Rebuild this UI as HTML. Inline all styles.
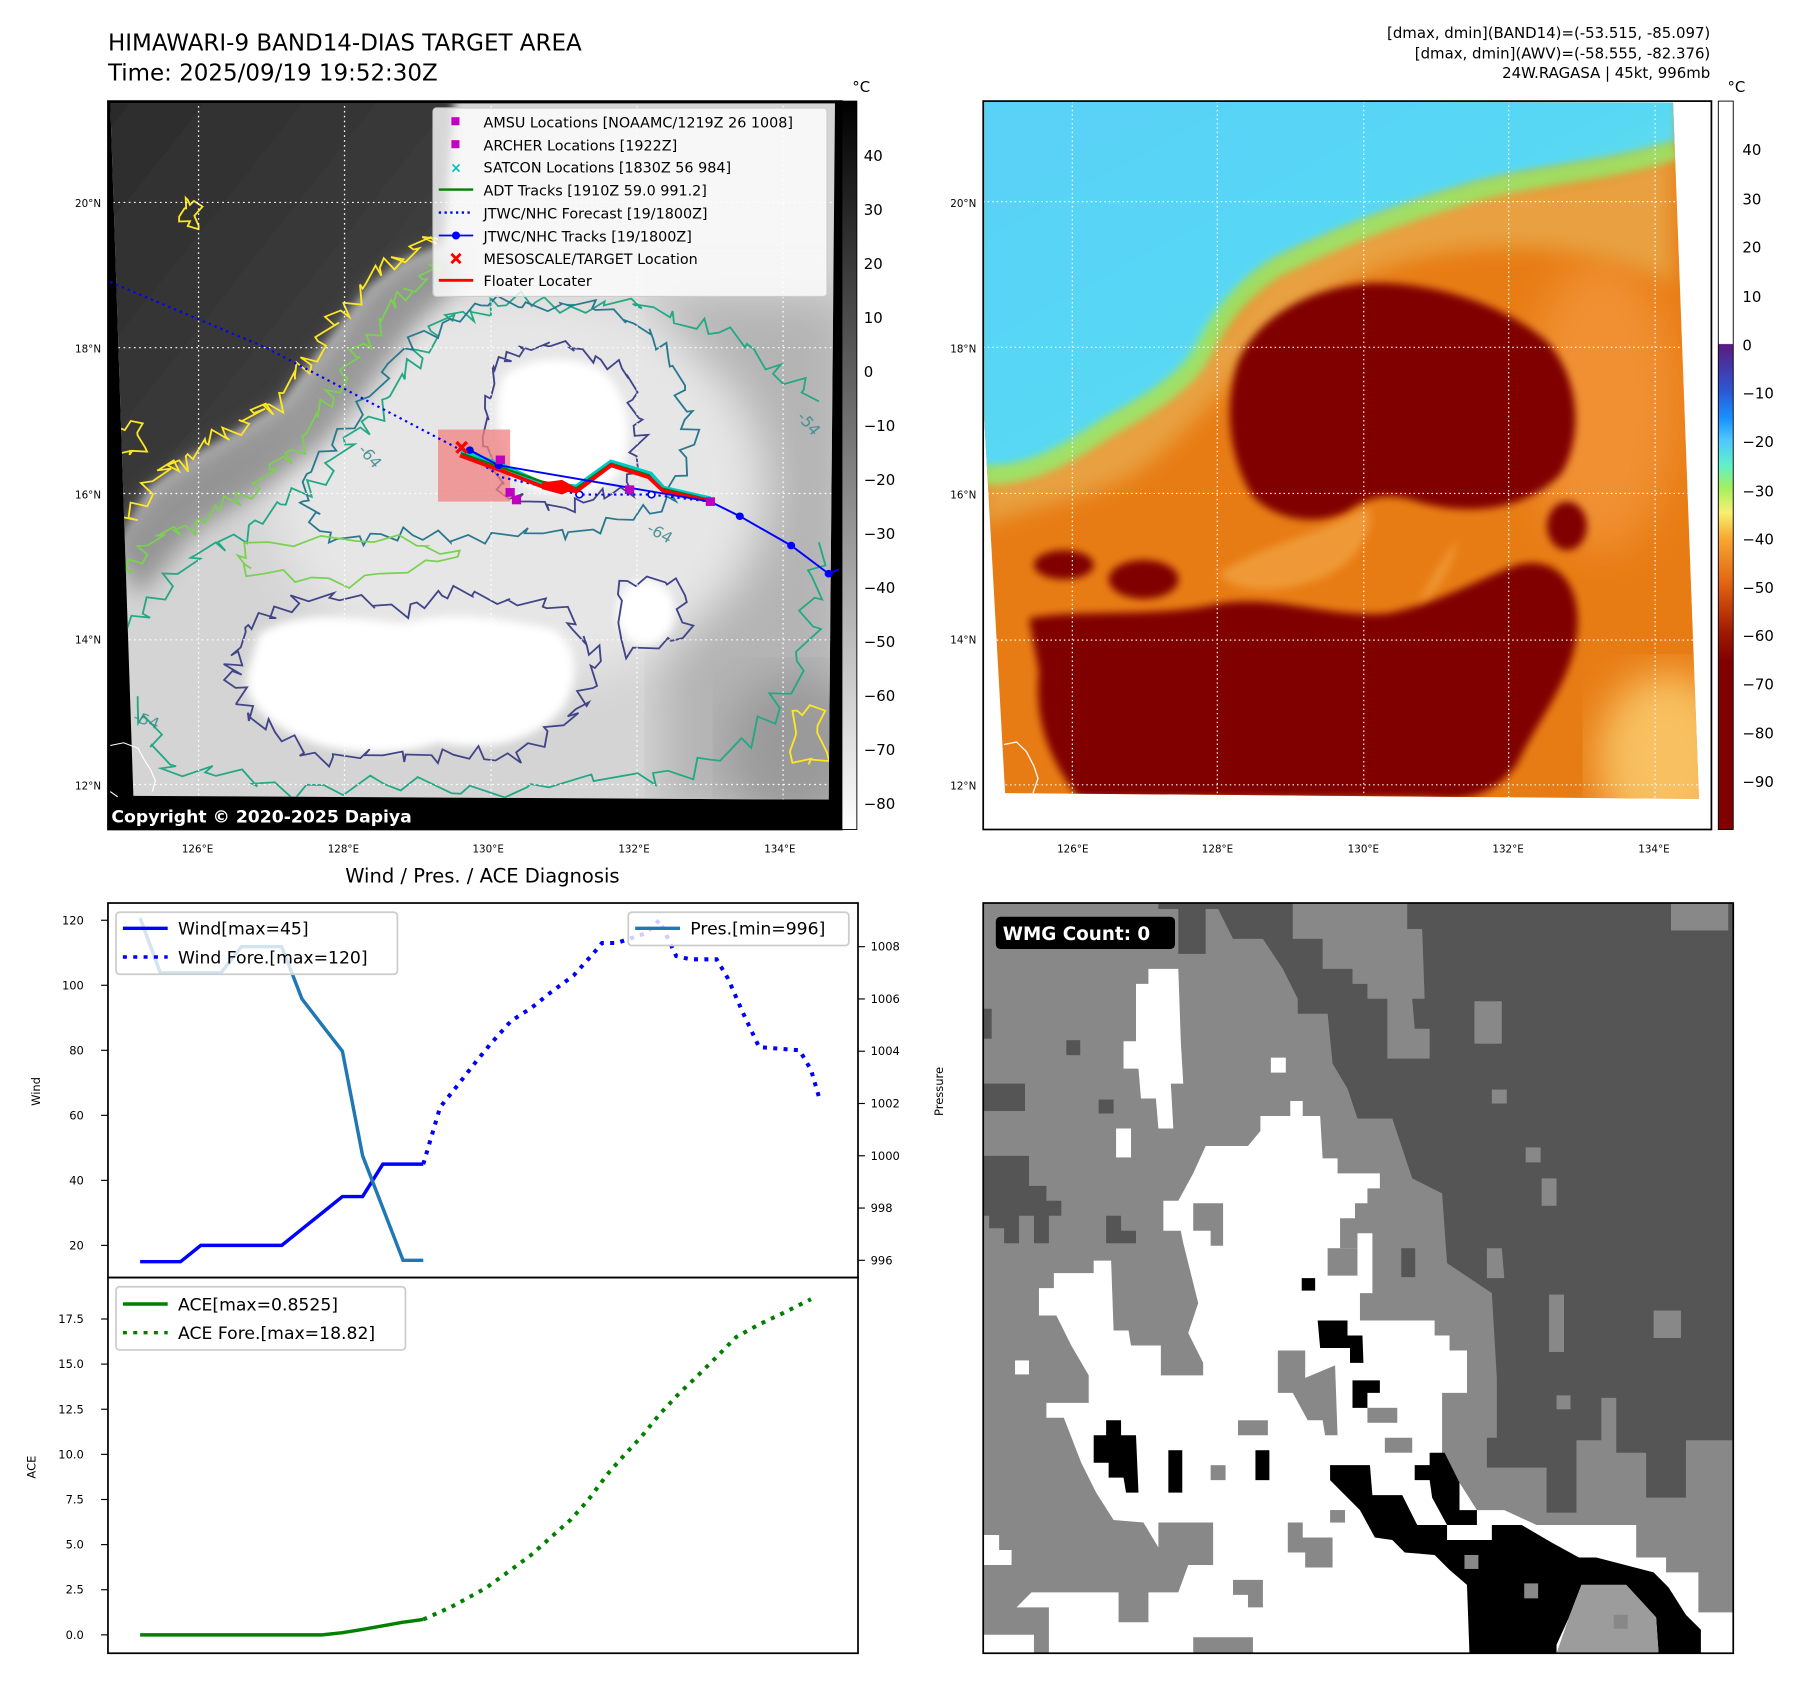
<!DOCTYPE html>
<html><head><meta charset="utf-8"><title>Himawari-9 Band 14 – 24W Ragasa</title>
<style>
html,body{margin:0;padding:0;background:#fff;}
svg{display:block;font-family:"DejaVu Sans","Liberation Sans",sans-serif;}
</style></head>
<body>
<svg id="root" xmlns="http://www.w3.org/2000/svg" width="1801" height="1690" viewBox="0 0 1568 1471" preserveAspectRatio="none">
<defs>
  <linearGradient id="cbGrey" x1="0" y1="0" x2="0" y2="1">
    <stop offset="0" stop-color="#000"/><stop offset="1" stop-color="#fff"/>
  </linearGradient>
  <linearGradient id="cbColor" x1="0" y1="88" x2="0" y2="722" gradientUnits="userSpaceOnUse">
    <stop offset="0" stop-color="#fff"/>
    <stop offset="0.333" stop-color="#fff"/>
    <stop offset="0.334" stop-color="#5a1a80"/>
    <stop offset="0.40" stop-color="#2a5ad8"/>
    <stop offset="0.435" stop-color="#1890ff"/>
    <stop offset="0.466" stop-color="#50c8ff"/>
    <stop offset="0.50" stop-color="#60f0c8"/>
    <stop offset="0.53" stop-color="#a0f060"/>
    <stop offset="0.565" stop-color="#f8f070"/>
    <stop offset="0.60" stop-color="#f8a830"/>
    <stop offset="0.665" stop-color="#e06010"/>
    <stop offset="0.73" stop-color="#a01800"/>
    <stop offset="0.77" stop-color="#800000"/>
    <stop offset="1" stop-color="#800000"/>
  </linearGradient>
  <linearGradient id="darkSky" x1="0" y1="0" x2="1" y2="1">
    <stop offset="0" stop-color="#2a2a2a"/><stop offset="0.6" stop-color="#3c3c3c"/><stop offset="1" stop-color="#6a6a6a"/>
  </linearGradient>
  <linearGradient id="cyanSky" x1="0" y1="0" x2="1" y2="1">
    <stop offset="0" stop-color="#5ad0f8"/><stop offset="0.5" stop-color="#58d8f4"/><stop offset="1" stop-color="#78f0c0"/>
  </linearGradient>
  <filter id="blur8"><feGaussianBlur stdDeviation="8"/></filter>
  <filter id="blur20"><feGaussianBlur stdDeviation="20"/></filter>
  <filter id="blur40"><feGaussianBlur stdDeviation="40"/></filter>
  <clipPath id="clipL"><polygon points="192,190 1448,190 1437,1475 232,1468"/></clipPath>
  <clipPath id="clipR"><polygon points="8,25 1393,28 1445,1462 52,1450 8,640"/></clipPath>
</defs>

<text x="94" y="44" font-size="20">HIMAWARI-9 BAND14-DIAS TARGET AREA</text>
<text x="94" y="70" font-size="20">Time: 2025/09/19 19:52:30Z</text>
<g font-size="13" text-anchor="end">
  <text x="1489" y="33">[dmax, dmin](BAND14)=(-53.515, -85.097)</text>
  <text x="1489" y="51">[dmax, dmin](AWV)=(-58.555, -82.376)</text>
  <text x="1489" y="68">24W.RAGASA | 45kt, 996mb</text>
</g>

<g>
  <rect x="94" y="88" width="639" height="634" fill="#000"/>
  <svg x="94" y="88" width="639" height="634" viewBox="188 186 1272 1344" preserveAspectRatio="none">
    <g clip-path="url(#clipL)">
      <rect x="180" y="180" width="1300" height="1320" fill="#d4d4d4"/>
      <rect x="1150" y="550" width="320" height="950" fill="#b4b4b4" filter="url(#blur40)"/>
      <ellipse cx="1380" cy="1380" rx="120" ry="140" fill="#9a9a9a" filter="url(#blur40)"/>
      <ellipse cx="900" cy="900" rx="430" ry="360" fill="#e6e6e6" filter="url(#blur40)"/>
      <polygon fill="url(#darkSky)" filter="url(#blur8)" points="150,150 790,150 770,450 700,480 640,530 590,600 540,670 490,740 420,790 330,845 260,900 200,1010 150,1010"/>
      <polygon fill="#7a7a7a" opacity="0.7" filter="url(#blur20)" points="190,1000 260,900 330,845 420,790 490,740 540,670 590,600 640,530 700,480 770,450 800,520 720,600 640,720 560,820 460,900 340,980 240,1100"/>
      <path fill="#fff" filter="url(#blur8)" d="M450,1170 C520,1120 620,1140 700,1150 C800,1120 900,1150 960,1160 C1010,1200 1000,1260 980,1300 C940,1360 860,1390 760,1370 C680,1400 580,1390 520,1360 C460,1330 420,1290 430,1240 Z"/>
      <path fill="#fff" filter="url(#blur8)" d="M870,700 C900,660 980,650 1040,680 C1090,720 1100,800 1080,860 C1060,910 980,920 920,900 C870,870 850,780 870,700 Z"/>
      <ellipse cx="1120" cy="1130" rx="50" ry="60" fill="#fff" filter="url(#blur8)"/>
      <g id="contours" fill="none" stroke-width="3.2"></g>
      <g stroke="#fff" stroke-width="2.2" stroke-dasharray="3,6">
        <line x1="345" y1="186" x2="345" y2="1530"/><line x1="598" y1="186" x2="598" y2="1530"/>
        <line x1="852" y1="186" x2="852" y2="1530"/><line x1="1105" y1="186" x2="1105" y2="1530"/>
        <line x1="1358" y1="186" x2="1358" y2="1530"/>
        <line x1="188" y1="373" x2="1460" y2="373"/><line x1="188" y1="641" x2="1460" y2="641"/>
        <line x1="188" y1="910" x2="1460" y2="910"/><line x1="188" y1="1180" x2="1460" y2="1180"/>
        <line x1="188" y1="1447" x2="1460" y2="1447"/>
      </g>
    </g>
    <path d="M192,1375 L215,1370 L240,1380 L250,1400 L262,1420 L270,1440 L265,1460 M192,1460 L205,1470" fill="none" stroke="#fff" stroke-width="2"/>
    <rect x="760" y="792" width="125" height="133" fill="#f08080" opacity="0.75"/>
    <polyline points="192,520 460,640 800,830 870,880 1005,912 1130,912 1232,925" fill="none" stroke="#0000ff" stroke-width="4" stroke-dasharray="4,7"/>
    <g fill="#fff" stroke="#0000ff" stroke-width="3"><circle cx="1005" cy="912" r="6"/><circle cx="1130" cy="912" r="6"/></g>
    <polyline points="800,832 870,858 940,892 1000,898 1060,852 1128,874 1150,900 1232,920" fill="none" stroke="#00c8c8" stroke-width="9"/>
    <polyline points="800,836 870,862 940,888 1000,900 1060,855 1125,876 1145,900 1232,922" fill="none" stroke="#008000" stroke-width="4"/>
    <polyline points="798,840 870,868 940,897 1000,906 1060,858 1125,880 1150,905 1232,924" fill="none" stroke="#ff0000" stroke-width="7"/>
    <polygon points="940,890 975,885 1000,900 975,912 940,902" fill="#ff0000"/>
    <polyline points="815,830 865,858 1232,925 1283,952 1372,1006 1437,1058 1455,1050" fill="none" stroke="#0000ff" stroke-width="3.5"/>
    <g fill="#0000ff"><circle cx="815" cy="830" r="7"/><circle cx="865" cy="858" r="7"/><circle cx="1232" cy="925" r="7"/><circle cx="1283" cy="952" r="7"/><circle cx="1372" cy="1006" r="7"/><circle cx="1437" cy="1058" r="7"/></g>
    <g fill="#c000c0">
      <rect x="860" y="840" width="16" height="16"/><rect x="877" y="900" width="16" height="16"/><rect x="888" y="914" width="16" height="16"/><rect x="1084" y="895" width="16" height="16"/><rect x="1224" y="917" width="16" height="16"/>
    </g>
    <path d="M792,815 L810,835 M810,815 L792,835" stroke="#ff0000" stroke-width="6"/>
    <g fill="#3e8a8e" font-size="28" opacity="0.9">
      <text x="1380" y="770" transform="rotate(50 1380 770)">-54</text>
      <text x="620" y="830" transform="rotate(50 620 830)">-64</text>
      <text x="1120" y="980" transform="rotate(30 1120 980)">-64</text>
      <text x="230" y="1330" transform="rotate(20 230 1330)">-54</text>
    </g>
  </svg>
  <rect x="94" y="88" width="639" height="634" fill="none" stroke="#000" stroke-width="1.5"/>
  <text x="97" y="716" font-size="15" font-weight="bold" fill="#fff">Copyright © 2020-2025 Dapiya</text>
  <g font-size="12.5">
    <rect x="377" y="94" width="343" height="164" rx="3" fill="#fff" fill-opacity="0.8" stroke="#ccc"/>
    <rect x="393" y="102" width="7" height="7" fill="#c000c0"/><text x="421" y="111">AMSU Locations [NOAAMC/1219Z 26 1008]</text>
    <rect x="393" y="122" width="7" height="7" fill="#c000c0"/><text x="421" y="131">ARCHER Locations [1922Z]</text>
    <text x="392" y="150" fill="#00c0c0" font-size="12" font-weight="bold">×</text><text x="421" y="150">SATCON Locations [1830Z 56 984]</text>
    <line x1="382" y1="165" x2="412" y2="165" stroke="#008000" stroke-width="2"/><text x="421" y="170">ADT Tracks [1910Z 59.0 991.2]</text>
    <line x1="382" y1="185" x2="412" y2="185" stroke="#0000ff" stroke-width="2" stroke-dasharray="2,3"/><text x="421" y="190">JTWC/NHC Forecast [19/1800Z]</text>
    <line x1="382" y1="205" x2="412" y2="205" stroke="#0000ff" stroke-width="1.5"/><circle cx="397" cy="205" r="3.5" fill="#0000ff"/><text x="421" y="210">JTWC/NHC Tracks [19/1800Z]</text>
    <path d="M393,221 L401,229 M401,221 L393,229" stroke="#ff0000" stroke-width="2.5"/><text x="421" y="230">MESOSCALE/TARGET Location</text>
    <line x1="382" y1="244" x2="412" y2="244" stroke="#ff0000" stroke-width="2.5"/><text x="421" y="249">Floater Locater</text>
  </g>
  <g font-size="9" text-anchor="end">
    <text x="88" y="180">20°N</text><text x="88" y="307">18°N</text><text x="88" y="434">16°N</text><text x="88" y="560">14°N</text><text x="88" y="687">12°N</text>
  </g>
  <g font-size="9" text-anchor="middle">
    <text x="172" y="742">126°E</text><text x="299" y="742">128°E</text><text x="425" y="742">130°E</text><text x="552" y="742">132°E</text><text x="679" y="742">134°E</text>
  </g>
  <g>
    <rect x="733" y="88" width="13" height="634" fill="url(#cbGrey)" stroke="#000" stroke-width="0.8"/>
    <text x="742" y="80" font-size="13">°C</text>
    <g font-size="13">
      <text x="752" y="140">40</text><text x="752" y="187">30</text><text x="752" y="234">20</text><text x="752" y="281">10</text><text x="752" y="328">0</text>
      <text x="752" y="375">−10</text><text x="752" y="422">−20</text><text x="752" y="469">−30</text><text x="752" y="516">−40</text><text x="752" y="563">−50</text>
      <text x="752" y="610">−60</text><text x="752" y="657">−70</text><text x="752" y="704">−80</text>
    </g>
  </g>
</g>

<g>
  <rect x="856" y="88" width="634" height="634" fill="#fff"/>
  <svg x="856" y="88" width="634" height="634" viewBox="8 25 1462 1500" preserveAspectRatio="none">
    <g clip-path="url(#clipR)">
      <rect x="0" y="0" width="1500" height="1500" fill="#e87c14"/>
      <ellipse cx="1380" cy="1380" rx="140" ry="180" fill="#f8c060" filter="url(#blur40)"/>
      <ellipse cx="1250" cy="650" rx="150" ry="300" fill="#f09030" filter="url(#blur40)"/>
      <path fill="#e8a040" filter="url(#blur20)" d="M8,560 C200,760 450,560 540,420 C650,300 850,220 1100,190 C1250,180 1393,130 1393,130 L1393,400 C1200,300 900,300 700,420 C550,520 450,700 300,800 C200,850 100,860 8,900 Z"/>
      <path fill="url(#cyanSky)" filter="url(#blur8)" d="M0,0 L1400,0 L1400,110 C1250,160 1100,160 950,210 C820,250 700,300 600,350 C520,400 480,460 440,540 C400,600 330,640 260,680 C170,740 100,790 0,780 Z"/>
      <path fill="none" stroke="#90f070" stroke-width="40" opacity="0.8" filter="url(#blur8)" d="M1400,125 C1250,175 1100,175 950,225 C820,265 700,315 600,365 C520,415 480,475 440,555 C400,615 330,655 260,695 C170,755 100,800 0,795"/>
      <g fill="#800000" filter="url(#blur8)">
        <path d="M520,560 C560,470 660,410 780,400 C900,395 1050,440 1140,520 C1210,600 1210,720 1170,790 C1100,870 980,880 880,850 C820,830 780,840 740,870 C680,900 600,890 550,840 C500,760 490,650 520,560 Z"/>
        <path d="M100,1090 C200,1070 350,1090 480,1060 C600,1040 700,1090 820,1080 C920,1060 1000,1010 1080,980 C1160,960 1210,1020 1200,1120 C1190,1220 1120,1300 1080,1390 C1040,1450 980,1470 900,1460 L200,1460 C140,1380 110,1300 120,1200 Z"/>
        <ellipse cx="330" cy="1010" rx="70" ry="40"/>
        <ellipse cx="170" cy="980" rx="60" ry="30"/>
        <ellipse cx="1180" cy="900" rx="40" ry="50"/>
      </g>
      <path fill="#f0a040" opacity="0.8" filter="url(#blur8)" d="M480,1000 C560,940 680,920 780,860 C800,900 760,980 680,1010 C600,1040 520,1040 480,1000 Z"/>
      <path fill="#f0a040" opacity="0.7" filter="url(#blur8)" d="M880,1060 C910,1000 940,950 960,930 C950,990 920,1040 880,1060 Z"/>
      <g stroke="#fff" stroke-width="2.4" stroke-dasharray="3,6">
        <line x1="187" y1="25" x2="187" y2="1525"/><line x1="478" y1="25" x2="478" y2="1525"/>
        <line x1="772" y1="25" x2="772" y2="1525"/><line x1="1063" y1="25" x2="1063" y2="1525"/>
        <line x1="1357" y1="25" x2="1357" y2="1525"/>
        <line x1="8" y1="232" x2="1470" y2="232"/><line x1="8" y1="532" x2="1470" y2="532"/>
        <line x1="8" y1="833" x2="1470" y2="833"/><line x1="8" y1="1135" x2="1470" y2="1135"/>
        <line x1="8" y1="1433" x2="1470" y2="1433"/>
      </g>
    </g>
    <path d="M50,1350 L75,1345 L95,1365 L110,1395 L118,1420 L108,1450" fill="none" stroke="#fff" stroke-width="2.5"/>
  </svg>
  <rect x="856" y="88" width="634" height="634" fill="none" stroke="#000" stroke-width="1.5"/>
  <g font-size="9" text-anchor="end">
    <text x="850" y="180">20°N</text><text x="850" y="307">18°N</text><text x="850" y="434">16°N</text><text x="850" y="560">14°N</text><text x="850" y="687">12°N</text>
  </g>
  <g font-size="9" text-anchor="middle">
    <text x="934" y="742">126°E</text><text x="1060" y="742">128°E</text><text x="1187" y="742">130°E</text><text x="1313" y="742">132°E</text><text x="1440" y="742">134°E</text>
  </g>
  <g>
    <rect x="1496" y="88" width="13" height="634" fill="url(#cbColor)" stroke="#000" stroke-width="0.8"/>
    <text x="1504" y="80" font-size="13">°C</text>
    <g font-size="13">
      <text x="1517" y="135">40</text><text x="1517" y="178">30</text><text x="1517" y="220">20</text><text x="1517" y="263">10</text><text x="1517" y="305">0</text>
      <text x="1517" y="347">−10</text><text x="1517" y="389">−20</text><text x="1517" y="432">−30</text><text x="1517" y="474">−40</text><text x="1517" y="516">−50</text>
      <text x="1517" y="558">−60</text><text x="1517" y="600">−70</text><text x="1517" y="643">−80</text><text x="1517" y="685">−90</text>
    </g>
  </g>
</g>

<text x="420" y="768" font-size="17" text-anchor="middle">Wind / Pres. / ACE Diagnosis</text>
<g id="chart"></g>

<g>
  <svg x="856" y="786" width="653" height="653" viewBox="8 8 1507 1504" preserveAspectRatio="none">
    <rect x="0" y="0" width="1520" height="1520" fill="#888"/>
    <g fill="#555">
      <polygon points="860,8 1515,8 1515,1085 1420,1085 1420,1200 1340,1200 1340,1110 1280,1110 1280,1000 1250,1000 1250,1085 1200,1085 1200,1230 1140,1230 1140,1140 1020,1140 1020,1080 1040,1080 1040,960 1030,790 940,730 930,590 870,560 830,440 760,440 740,380 710,330 700,230 640,230 640,200 610,140 570,80 510,80 480,20 360,20 360,8"/>
      <rect x="8" y="370" width="84" height="55"/>
      <polygon points="8,515 100,515 100,575 135,575 135,605 165,605 165,635 140,635 140,690 110,690 110,635 80,635 80,690 50,690 50,660 20,660 20,635 8,635"/>
      <polygon points="255,635 285,635 285,665 315,665 315,690 255,690"/>
      <rect x="8" y="220" width="17" height="60"/><rect x="175" y="283" width="28" height="30"/><rect x="240" y="402" width="30" height="28"/>
      <rect x="400" y="20" width="55" height="90"/>
      <rect x="848" y="700" width="28" height="58"/>
    </g>
    <g fill="#888">
      <polygon points="630,8 860,8 860,60 890,60 895,200 870,200 875,260 905,260 905,320 820,320 820,200 780,200 780,170 750,170 750,140 690,140 690,80 630,80"/>
      <rect x="1390" y="8" width="115" height="55"/><rect x="995" y="205" width="55" height="85"/><rect x="1030" y="382" width="30" height="28"/>
      <rect x="1098" y="498" width="30" height="30"/><rect x="1130" y="560" width="30" height="55"/><rect x="1145" y="793" width="30" height="115"/>
      <rect x="1355" y="825" width="55" height="55"/><rect x="1160" y="995" width="28" height="28"/>
      <polygon points="1020,700 1050,700 1055,760 1020,760"/>
    </g>
    <polygon fill="#fff" points="565,435 625,435 625,405 650,405 650,435 685,435 690,520 720,520 720,550 805,550 805,580 780,580 780,610 755,610 755,640 725,640 725,700 760,700 760,670 790,670 790,790 765,790 765,845 915,845 915,875 945,875 945,905 980,905 980,990 930,990 930,1110 965,1170 1000,1225 1055,1225 1120,1255 1320,1255 1320,1320 1380,1320 1380,1350 1445,1350 1445,1430 1515,1430 1515,1512 550,1512 550,1480 430,1480 430,1512 140,1512 140,1420 75,1420 105,1390 280,1390 280,1450 340,1450 340,1390 400,1390 420,1335 470,1335 470,1250 360,1250 360,1300 330,1250 270,1245 235,1190 205,1130 170,1040 135,1040 135,1010 220,1010 220,955 185,895 155,835 120,835 120,780 150,780 150,750 230,750 230,725 265,725 270,865 300,865 305,895 365,895 365,955 450,955 450,930 420,870 440,810 410,690 405,665 370,665 370,605 400,605 430,550 455,495 540,495 565,465"/>
    <g fill="#fff">
      <polygon points="340,140 400,140 405,285 410,370 385,370 390,460 360,460 355,400 325,400 320,340 290,340 290,285 315,285 315,170 340,170"/>
      <rect x="586" y="318" width="30" height="30"/><rect x="275" y="460" width="30" height="58"/><rect x="72" y="925" width="28" height="28"/>
      <polygon points="8,1275 40,1275 40,1305 65,1305 65,1335 8,1335"/><polygon points="8,1475 110,1475 110,1512 8,1512"/>
    </g>
    <g fill="#888">
      <polygon points="600,905 655,905 655,960 715,935 720,1075 695,1075 690,1045 660,1045 630,990 600,990"/>
      <polygon points="430,610 490,610 490,695 465,695 465,665 430,665"/>
      <rect x="520" y="1045" width="60" height="30"/><rect x="815" y="1080" width="55" height="30"/><rect x="780" y="1020" width="60" height="30"/>
      <rect x="465" y="1135" width="30" height="30"/><rect x="705" y="1225" width="30" height="25"/><rect x="700" y="700" width="60" height="55"/>
      <polygon points="620,1250 650,1250 650,1280 710,1280 710,1340 655,1340 655,1310 620,1310"/>
      <polygon points="510,1365 570,1365 570,1420 540,1420 540,1395 510,1395"/>
      <polygon points="8,1335 75,1335 75,1420 8,1420"/>
    </g>
    <g fill="#000">
      <polygon points="255,1045 285,1045 285,1075 315,1075 320,1190 295,1190 290,1160 260,1160 260,1130 230,1130 230,1075 255,1075"/>
      <rect x="380" y="1105" width="28" height="85"/><rect x="555" y="1105" width="28" height="60"/><rect x="648" y="760" width="27" height="25"/>
      <polygon points="680,845 740,845 740,875 770,875 772,930 745,930 745,900 685,900"/>
      <polygon points="750,965 805,965 805,990 780,990 780,1020 750,1020"/>
      <polygon points="905,1110 935,1110 965,1170 965,1225 1000,1225 1000,1255 940,1255 910,1200 905,1165 875,1165 875,1135 905,1135"/>
      <polygon points="705,1135 785,1135 790,1195 850,1195 880,1255 940,1255 940,1285 1030,1285 1030,1255 1090,1255 1150,1290 1205,1320 1240,1320 1355,1350 1385,1380 1420,1435 1450,1465 1450,1512 1365,1512 1360,1440 1300,1375 1210,1375 1185,1440 1160,1495 1160,1512 985,1512 980,1375 945,1345 915,1315 855,1310 830,1285 795,1280 765,1225 735,1195 705,1165"/>
    </g>
    <polygon fill="#9c9c9c" points="1210,1375 1300,1375 1360,1440 1365,1512 1160,1512 1185,1440"/>
    <rect x="1275" y="1435" width="28" height="28" fill="#888"/>
    <rect x="975" y="1315" width="28" height="28" fill="#888"/>
    <rect x="1095" y="1372" width="28" height="30" fill="#888"/>
  </svg>
  <rect x="856" y="786" width="653" height="653" fill="none" stroke="#000" stroke-width="1.5"/>
  <rect x="867" y="798" width="156" height="28" rx="4" fill="#000"/>
  <text x="873" y="818" font-size="16" font-weight="bold" fill="#fff">WMG Count: 0</text>
</g>
</svg>

<script>
// ---------------- chart data ----------------
const obsHours = [0,3,6,9,12,15,18,21,24,27,30,33,36,39,42];
const obsWind = [15,15,15,20,20,20,20,20,25,30,35,35,45,45,45];
const obsPres = [1009.1,1007,1007,1007,1007,1008,1008,1008,1006,1005,1004,1000,998,996,996];
const obsAce = [0,0,0,0,0,0,0,0,0,0,0.12,0.3,0.5,0.7,0.85];
const foreWindHours = [42,44.5,47,49.5,52,55,58,61,64.3,67.3,68.5,70.7,75,77,79.5,81.6,85.5,87.2,89.3,91.8,97.8,99.5,100.7];
const foreWind = [45,62.5,69,75.7,82,89,93,98,103,110,113,113,116,120,109,108,108,102,92,81,80,74,65.5];
const foreAceHours = [42,46.1,51.2,54.5,57.9,60.9,63.9,66.4,69.3,71.9,74.4,77,80,82.4,85.5,88.4,91.8,95.2,99.5];
const foreAce = [0.85,1.54,2.57,3.46,4.4,5.4,6.4,7.45,8.9,10.0,11.0,12.2,13.4,14.25,15.4,16.5,17.2,17.8,18.6];
const windTicks = [20,40,60,80,100,120];
const presTicks = [996,998,1000,1002,1004,1006,1008];
const aceTicks = [0,2.5,5,7.5,10,12.5,15,17.5];

const NS = "http://www.w3.org/2000/svg";
const chart = document.getElementById("chart");
function xOf(h){ return 122 + h*5.87; }
function yWind(v){ return 1084 - (v-20)*2.83; }
function yPres(p){ return 1097 - (p-996)*22.75; }
function yAce(v){ return 1423 - v*15.71; }
function mk(tag, attrs, parent){
  const e = document.createElementNS(NS, tag);
  for (const k in attrs) e.setAttribute(k, attrs[k]);
  (parent||chart).appendChild(e);
  return e;
}
function pts(hs, vs, yf){ return hs.map((h,i)=>xOf(h).toFixed(1)+","+yf(vs[i]).toFixed(1)).join(" "); }

let f1 = mk("rect",{x:94,y:786,width:653,height:326,fill:"none",stroke:"#000","stroke-width":1.5});


let f2 = mk("rect",{x:94,y:1112,width:653,height:327,fill:"none",stroke:"#000","stroke-width":1.5});



windTicks.forEach(v=>{
  const y = yWind(v);
  const t = mk("line",{x1:88,y1:y,x2:94,y2:y,stroke:"#000","stroke-width":1});
  
  
  const l = mk("text",{x:73,y:y+3.5,"font-size":10,"text-anchor":"end"});
  l.textContent = v;
  
  
});
presTicks.forEach(v=>{
  const y = yPres(v);
  const t = mk("line",{x1:747,y1:y,x2:753,y2:y,stroke:"#000","stroke-width":1});
  
  
  const l = mk("text",{x:758,y:y+3.5,"font-size":10});
  l.textContent = v;
  
  
});
aceTicks.forEach(v=>{
  const y = yAce(v);
  const t = mk("line",{x1:88,y1:y,x2:94,y2:y,stroke:"#000","stroke-width":1});
  
  
  const l = mk("text",{x:73,y:y+3.5,"font-size":10,"text-anchor":"end"});
  l.textContent = v.toFixed(1);
  
  
});
let ax1 = mk("text",{x:35,y:950,"font-size":10,"text-anchor":"middle",transform:"rotate(-90 35 950)"});
ax1.textContent = "Wind";


let ax2 = mk("text",{x:821,y:950,"font-size":10,"text-anchor":"middle",transform:"rotate(-90 821 950)"});
ax2.textContent = "Pressure";


let ax3 = mk("text",{x:31,y:1277,"font-size":10,"text-anchor":"middle",transform:"rotate(-90 31 1277)"});
ax3.textContent = "ACE";



let s1 = mk("polyline",{points:pts(obsHours,obsWind,yWind),fill:"none",stroke:"#0000ff","stroke-width":3});


let s2 = mk("polyline",{points:pts(foreWindHours,foreWind,yWind),fill:"none",stroke:"#0000ff","stroke-width":3.5,"stroke-dasharray":"3.5,5.5"});


let s3 = mk("polyline",{points:pts(obsHours,obsPres,yPres),fill:"none",stroke:"#1f77b4","stroke-width":3});


let s4 = mk("polyline",{points:pts(obsHours,obsAce,yAce),fill:"none",stroke:"#008000","stroke-width":3});


let s5 = mk("polyline",{points:pts(foreAceHours,foreAce,yAce),fill:"none",stroke:"#008000","stroke-width":3.5,"stroke-dasharray":"3.5,5.5"});



function legendBox(x,y,w,h,name){
  const r = mk("rect",{x:x,y:y,width:w,height:h,rx:3,fill:"#fff","fill-opacity":0.8,stroke:"#ccc","stroke-width":1.5});
  
  
}
function legendItem(y,color,dash,label,name){
  const a = {x1:107,y1:y,x2:146,y2:y,stroke:color,"stroke-width":3};
  if (dash) a["stroke-dasharray"]="3.5,5.5";
  const l = mk("line",a);
  
  
  const t = mk("text",{x:155,y:y+5.5,"font-size":15});
  t.textContent = label;
  
  
}
legendBox(101,794,245,54,'wind-legend');
legendItem(808,"#0000ff",false,"Wind[max=45]",'wind-legend-entry');
legendItem(833,"#0000ff",true,"Wind Fore.[max=120]",'wind-forecast-legend-entry');
legendBox(547,794,192,29,'pressure-legend');
let pl = mk("line",{x1:553,y1:808,x2:592,y2:808,stroke:"#1f77b4","stroke-width":3});


let pt = mk("text",{x:601,y:813.5,"font-size":15});
pt.textContent = "Pres.[min=996]";


legendBox(101,1120,252,55,'ace-legend');
legendItem(1135,"#008000",false,"ACE[max=0.8525]",'ace-legend-entry');
legendItem(1160,"#008000",true,"ACE Fore.[max=18.82]",'ace-forecast-legend-entry');

// ---------------- decorative contours on greyscale map ----------------
const cg = document.getElementById("contours");
function wiggle(poly, amp, seg, closed){
  let out = [], k = 0;
  const n = poly.length;
  const lim = closed ? n : n-1;
  for (let i=0;i<lim;i++){
    const a = poly[i], b = poly[(i+1)%n];
    for (let s=0;s<seg;s++){
      const t = s/seg;
      k++;
      const dx = amp*(Math.sin(k*1.7)+0.6*Math.sin(k*4.3)+0.3*Math.sin(k*9.1));
      const dy = amp*(Math.cos(k*2.3)+0.6*Math.sin(k*5.7)+0.3*Math.cos(k*8.3));
      out.push((a[0]+(b[0]-a[0])*t+dx).toFixed(1)+","+(a[1]+(b[1]-a[1])*t+dy).toFixed(1));
    }
  }
  if (!closed) out.push(poly[n-1].join(","));
  return "M"+out.join(" L")+(closed?" Z":"");
}
function contour(poly, color, amp, seg, closed, name){
  const p = document.createElementNS(NS,"path");
  p.setAttribute("d", wiggle(poly, amp, seg, closed));
  p.setAttribute("stroke", color);
  
  
  cg.appendChild(p);
}
contour([[192,1010],[270,880],[330,840],[420,780],[480,740],[540,660],[600,560],[680,480],[760,440]],"#fde725",12,10,false,'contour-yellow');
contour([[192,1090],[260,1000],[350,960],[440,900],[520,820],[580,720],[640,620],[700,540],[770,490]],"#7ad151",10,10,false,'contour-green');
contour([[200,1200],[300,1060],[420,980],[540,900],[620,800],[700,700],[760,600],[850,560],[1000,560],[1150,570],[1300,640],[1420,740]],"#22a884",12,9,false,'contour-teal');
contour([[232,1300],[300,1420],[500,1450],[800,1455],[1100,1440],[1300,1380],[1400,1200],[1420,1000]],"#22a884",14,9,false,'contour-teal-south');
contour([[520,900],[620,760],[720,620],[850,560],[1000,560],[1120,600],[1180,700],[1200,820],[1150,940],[1000,980],[850,990],[700,990],[560,990]],"#2a788e",10,8,true,'contour-blue-teal');
contour([[850,690],[900,640],[1000,640],[1090,690],[1110,800],[1090,900],[990,935],[880,920],[840,820]],"#414487",9,8,true,'contour-purple-eye');
contour([[420,1170],[520,1100],[700,1120],[820,1090],[980,1130],[1040,1220],[1000,1320],[880,1400],[720,1390],[560,1400],[440,1330],[400,1250]],"#414487",11,9,true,'contour-purple-south');
contour([[1070,1080],[1180,1070],[1190,1180],[1080,1200]],"#414487",8,6,true,'contour-purple-east');
contour([[320,370],[345,380],[340,420],[315,410]],"#fde725",5,4,true,'contour-yellow-blob');
contour([[200,800],[240,780],[250,830],[205,840]],"#fde725",6,4,true,'contour-yellow-blob2');
contour([[1370,1320],[1420,1310],[1430,1400],[1380,1410]],"#fde725",8,4,true,'contour-yellow-se');
contour([[420,1010],[700,990],[800,1030],[600,1070],[430,1060]],"#7ad151",8,6,true,'contour-green-band');
</script>
</body></html>
